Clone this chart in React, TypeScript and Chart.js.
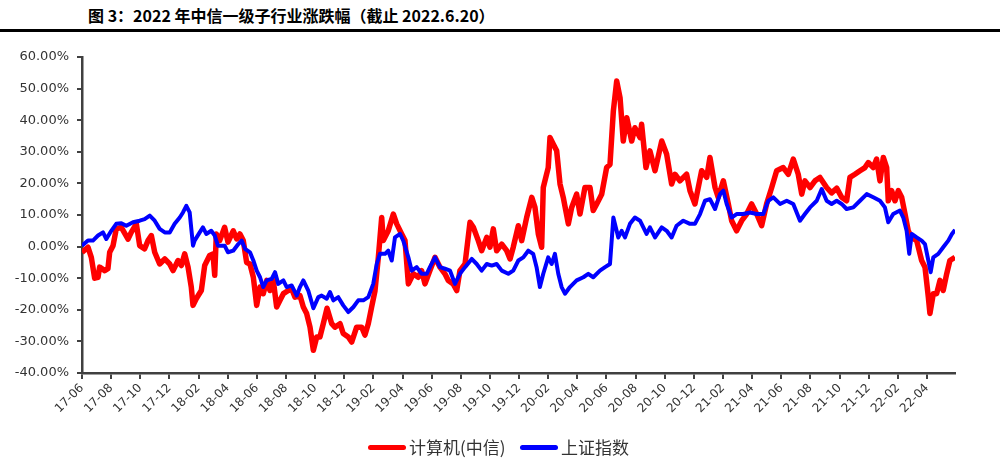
import React, { useEffect, useRef } from "react";
import { Chart, registerables } from "chart.js";

Chart.register(...registerables);

// x = months since 2017-06 (0 = 17-06), y = cumulative change in %
const redSeries: [number, number][] = [
  [0, -1.8], [0.41, -0.2], [0.64, -3.4], [0.87, -10], [1.1, -9.7], [1.21, -6.5], [1.56, -7.6], [1.78, -7],
  [1.9, -1.8], [2.13, 0.3], [2.35, 5.6], [2.7, 6.1], [3.16, 2.4], [3.38, 4.5], [3.73, 7.2], [3.96, 0.3],
  [4.3, -0.7], [4.53, 1.9], [4.76, 3.5], [4.99, -1.8], [5.33, -5.5], [5.68, -3.9], [6.02, -5.5], [6.25, -7.6],
  [6.59, -4.4], [6.82, -6], [7.05, -2.3], [7.28, -6.5], [7.5, -12.8], [7.62, -18.6], [7.84, -16.5], [8.19, -13.9],
  [8.42, -6], [8.76, -2.8], [8.99, -2.3], [9.11, -9.1], [9.22, 4], [9.45, 1.9], [9.79, 6.1], [10.02, 1.4],
  [10.38, 5], [10.62, 2.4], [10.84, 4], [11.07, 1.9], [11.3, -5], [11.53, -5.5], [11.76, -9.7], [11.99, -18.6],
  [12.22, -12.8], [12.44, -14.9], [12.68, -10.7], [12.9, -13.9], [13.13, -10.7], [13.36, -19.1], [13.59, -17], [13.82, -14.9],
  [14.16, -13.9], [14.39, -13.3], [14.62, -16], [14.96, -15.5], [15.19, -19.1], [15.42, -21.2], [15.65, -25.5], [15.88, -32.8],
  [16.11, -28.6], [16.33, -28.6], [16.56, -24.4], [16.82, -19.5], [17.14, -24.4], [17.36, -25.5], [17.71, -24.4], [17.93, -27.5],
  [18.28, -28.6], [18.51, -30.2], [18.85, -25.5], [19.2, -25.5], [19.42, -28], [19.65, -24.4], [19.88, -19.1], [20.11, -14],
  [20.34, -3.4], [20.57, 9.2], [20.68, 1.9], [21.02, 5], [21.37, 10.3], [21.6, 7.2], [21.94, 4], [22.17, 1.9],
  [22.4, -11.8], [22.74, -8.6], [23.08, -9.7], [23.31, -7.6], [23.54, -11.8], [23.88, -7.6], [24.23, -3.4], [24.57, -6.5],
  [24.91, -8.6], [25.14, -10.7], [25.48, -11.8], [25.72, -13.9], [25.94, -7.6], [26.29, -5.5], [26.63, 7.7], [26.86, 6.1],
  [27.2, 1.9], [27.43, -1.3], [27.78, 2.9], [28.0, -0.2], [28.23, 5.6], [28.46, -1.3], [28.81, 0.8], [29.15, -1.3],
  [29.38, -3.9], [29.6, -0.2], [29.95, 6.6], [30.18, 1.9], [30.52, 9.2], [30.87, 15.6], [31.09, 12.4], [31.32, 4],
  [31.55, -0.2], [31.66, 18.7], [32.0, 25], [32.12, 34.5], [32.35, 32.4], [32.58, 30.3], [32.81, 19.8], [33.03, 15.6],
  [33.38, 7.2], [33.61, 12.4], [33.95, 16.6], [34.18, 10.3], [34.52, 18.7], [34.87, 18.7], [35.09, 11.4], [35.33, 13.5],
  [35.67, 16.6], [36.01, 25], [36.24, 26], [36.47, 42.9], [36.7, 52.4], [36.93, 47.1], [37.15, 33.4], [37.39, 40.8],
  [37.73, 33.4], [37.95, 37.6], [38.3, 34.5], [38.41, 38.7], [38.71, 25], [38.98, 30.3], [39.33, 24], [39.79, 33.4],
  [40.13, 29.2], [40.47, 19.8], [40.7, 22.9], [41.04, 20.8], [41.5, 22.9], [41.73, 17.7], [42.07, 13.5], [42.53, 24],
  [42.88, 21.9], [43.1, 28.2], [43.45, 18.7], [43.67, 15.6], [44.02, 20.8], [44.36, 13.5], [44.59, 8.2], [44.93, 5],
  [45.28, 8.2], [45.62, 10.3], [45.96, 13.5], [46.31, 10.3], [46.65, 6.6], [46.99, 13.5], [47.34, 18.7], [47.68, 24],
  [48.13, 25], [48.48, 22.9], [48.82, 27.7], [49.16, 22.9], [49.4, 16.6], [49.62, 20.8], [49.97, 18.7], [50.31, 20.8],
  [50.65, 21.9], [51.11, 18.7], [51.45, 17], [51.8, 18.5], [52.14, 15.6], [52.48, 14.5], [52.71, 21.9], [53.05, 22.9],
  [53.4, 24], [53.74, 25], [53.97, 26.6], [54.31, 25], [54.54, 27.7], [54.77, 20.8], [55.0, 28.2], [55.23, 25],
  [55.34, 14.5], [55.57, 17.7], [55.8, 14.5], [56.03, 17.7], [56.26, 15.6], [56.49, 10.3], [56.71, 5], [56.95, 2.9],
  [57.29, 1.9], [57.63, -4.4], [57.86, -6.5], [58.09, -16], [58.2, -21.2], [58.43, -14.9], [58.66, -14.9], [58.89, -10.7],
  [59.11, -13.9], [59.35, -8.6], [59.57, -4.4], [59.92, -3.4],
];

const blueSeries: [number, number][] = [
  [0, 0.3], [0.41, 1.9], [0.75, 1.9], [1.1, 3.5], [1.44, 4.5], [1.67, 2.4], [2.01, 5], [2.35, 7.2],
  [2.7, 7.4], [3.04, 6.6], [3.5, 7.7], [3.96, 8.2], [4.3, 8.7], [4.65, 9.8], [4.99, 8.2], [5.33, 5.6],
  [5.68, 4.5], [6.02, 4.5], [6.36, 7.2], [6.71, 9.2], [6.93, 10.8], [7.16, 12.9], [7.39, 10.8], [7.62, 0.3],
  [7.73, 1.9], [8.08, 4.5], [8.3, 6.1], [8.53, 4], [8.87, 5], [9.11, 3.5], [9.33, 0.3], [9.79, 0.3],
  [10.02, -1.8], [10.38, -1.3], [10.73, 0.8], [10.96, 1.9], [11.19, -0.7], [11.53, -1.8], [11.76, -4.4], [11.99, -7.6],
  [12.22, -9.7], [12.44, -12.8], [12.68, -10.7], [13.02, -10.2], [13.25, -8.1], [13.47, -11.8], [13.82, -10.7], [14.05, -12.8],
  [14.39, -12.3], [14.74, -15.5], [14.96, -12.8], [15.19, -10.7], [15.53, -13.9], [15.88, -19.5], [16.22, -16], [16.45, -15.5],
  [16.8, -16.5], [17.02, -14.4], [17.25, -17], [17.59, -16], [17.93, -18.6], [18.28, -20.7], [18.63, -19.1], [18.96, -17],
  [19.31, -17], [19.65, -16], [19.99, -11.8], [20.23, -5.5], [20.45, -2.3], [20.8, -2.3], [21.02, -1.3], [21.26, -4.4],
  [21.48, 2.9], [21.83, 4], [22.05, 1.9], [22.4, -3.4], [22.63, -7.6], [22.97, -6.5], [23.31, -8.6], [23.66, -8.6],
  [23.88, -6.5], [24.23, -3.4], [24.57, -6.5], [24.91, -7], [25.26, -7.6], [25.6, -11.8], [25.94, -8.6], [26.29, -6.5],
  [26.75, -3.9], [27.09, -5.5], [27.43, -7.6], [27.78, -5.5], [28.12, -6], [28.46, -5.5], [28.81, -7.6], [29.26, -8.6],
  [29.6, -7.6], [29.95, -4.4], [30.29, -3.4], [30.63, -1.3], [30.97, -2.3], [31.2, -6.5], [31.43, -12.8], [31.66, -8.6],
  [32.0, -3.4], [32.24, -5.5], [32.46, -2.3], [32.69, -8.6], [32.92, -12.8], [33.15, -14.9], [33.49, -12.8], [33.95, -10.7],
  [34.41, -9.7], [34.75, -8.6], [35.09, -9.7], [35.55, -7.6], [35.9, -6.5], [36.24, -5.5], [36.47, 9.2], [36.81, 2.9],
  [37.04, 5], [37.27, 2.9], [37.61, 7.2], [37.95, 9.2], [38.3, 8.2], [38.75, 4], [38.98, 6.1], [39.33, 2.9],
  [39.79, 6.1], [40.13, 5], [40.47, 2.9], [40.81, 6.6], [41.27, 8.2], [41.73, 7.2], [42.07, 7.2], [42.42, 10.3],
  [42.76, 14.5], [43.1, 15], [43.45, 11.9], [43.79, 16.6], [44.02, 17.7], [44.25, 13.5], [44.59, 9.2], [44.93, 10.3],
  [45.39, 10.3], [45.85, 10.8], [46.31, 10.3], [46.76, 10.3], [47.1, 14.5], [47.45, 15.6], [47.91, 13.5], [48.37, 14.5],
  [48.82, 13.5], [49.28, 8.2], [49.62, 10.3], [49.97, 12.4], [50.43, 14.5], [50.77, 18.2], [51.11, 14.5], [51.45, 13.5],
  [51.8, 14.5], [52.14, 13.5], [52.48, 11.9], [52.94, 12.4], [53.4, 14.5], [53.86, 16.6], [54.31, 15.6], [54.77, 14.5],
  [55.11, 12.4], [55.34, 7.7], [55.68, 10.3], [56.14, 11.4], [56.37, 9.2], [56.6, 5], [56.78, -2.3], [56.95, 4],
  [57.29, 2.9], [57.63, 1.9], [57.86, 0.8], [58.09, -4.4], [58.25, -8.1], [58.43, -3.4], [58.77, -2.3], [59.11, -0.2],
  [59.46, 1.9], [59.71, 4], [59.92, 5.3],
];

const seriesNames = ["计算机(中信)", "上证指数"];
const seriesColors = ["#FF0000", "#0000FF"];
const yTicks = [-40, -30, -20, -10, 0, 10, 20, 30, 40, 50, 60];
const startYear = 17;
const startMonth = 6;
const xMax = 59.92;
const titleText = "图 3：2022 年中信一级子行业涨跌幅（截止 2022.6.20）";

function monthLabel(v: number): string {
  const total = startMonth - 1 + Math.round(v);
  const yy = startYear + Math.floor(total / 12);
  const mm = (total % 12) + 1;
  return `${yy}-${mm < 10 ? "0" + mm : mm}`;
}

function LegendItem({ name, color, left }: { name: string; color: string; left: number }) {
  return (
    <div
      style={{
        position: "absolute",
        left,
        top: 436,
        height: 22,
        display: "flex",
        alignItems: "center",
        whiteSpace: "nowrap",
      }}
    >
      <span
        style={{
          display: "inline-block",
          width: 38,
          height: 5,
          borderRadius: 3,
          background: color,
          marginRight: 3,
        }}
      />
      <span
        style={{
          fontFamily: "'Noto Sans CJK SC', sans-serif",
          fontSize: 17,
          lineHeight: "22px",
          color: "#333333",
        }}
      >
        {name}
      </span>
    </div>
  );
}

export default function App() {
  const canvasRef = useRef<HTMLCanvasElement | null>(null);

  useEffect(() => {
    document.body.style.margin = "0";
    const canvas = canvasRef.current;
    if (!canvas) return;
    const axisColor = "#404040";
    const textColor = "#333333";
    const chart = new Chart(canvas, {
      type: "line",
      data: {
        datasets: [
          {
            label: seriesNames[0],
            data: redSeries.map(([x, y]) => ({ x, y })),
            borderColor: seriesColors[0],
            backgroundColor: seriesColors[0],
            borderWidth: 5.5,
            pointRadius: 0,
            tension: 0,
            order: 2,
            borderJoinStyle: "round",
          },
          {
            label: seriesNames[1],
            data: blueSeries.map(([x, y]) => ({ x, y })),
            borderColor: seriesColors[1],
            backgroundColor: seriesColors[1],
            borderWidth: 4,
            pointRadius: 0,
            tension: 0,
            order: 1,
            borderJoinStyle: "round",
          },
        ],
      },
      options: {
        animation: false,
        responsive: false,
        maintainAspectRatio: false,
        layout: { padding: { top: 57, right: 45, left: 0, bottom: 55 } },
        plugins: {
          legend: { display: false },
          tooltip: { enabled: false },
        },
        scales: {
          x: {
            type: "linear",
            min: 0,
            max: xMax,
            afterFit: (scale: any) => {
              scale.height = 48;
            },
            grid: {
              drawOnChartArea: false,
              drawTicks: true,
              tickLength: 6,
              color: axisColor,
              lineWidth: 2,
            },
            border: { color: axisColor, width: 2.5 },
            ticks: {
              stepSize: 2,
              includeBounds: false,
              autoSkip: false,
              maxRotation: 45,
              minRotation: 45,
              color: textColor,
              padding: 2,
              font: { family: "'DejaVu Sans', sans-serif", size: 12 },
              callback: (v: any) => monthLabel(Number(v)),
            },
          },
          y: {
            type: "linear",
            min: yTicks[0],
            max: yTicks[yTicks.length - 1],
            afterFit: (scale: any) => {
              scale.width = 82;
            },
            afterBuildTicks: (scale: any) => {
              scale.ticks = yTicks.map((v) => ({ value: v }));
            },
            grid: {
              drawOnChartArea: false,
              drawTicks: true,
              tickLength: 5,
              color: axisColor,
              lineWidth: 2,
            },
            border: { color: axisColor, width: 2.5 },
            ticks: {
              color: textColor,
              padding: 8,
              font: { family: "'DejaVu Sans', sans-serif", size: 13 },
              callback: (v: any) => Number(v).toFixed(2) + "%",
            },
          },
        },
      },
    });
    return () => chart.destroy();
  }, []);

  return (
    <div style={{ position: "relative", width: 1000, height: 476, background: "#fff", overflow: "hidden" }}>
      <div
        style={{
          position: "absolute",
          left: 88,
          top: 4,
          fontFamily: "'Noto Sans CJK SC', sans-serif",
          fontWeight: 700,
          fontSize: 16,
          lineHeight: "22px",
          color: "#000",
          whiteSpace: "nowrap",
        }}
      >
        {titleText}
      </div>
      <div style={{ position: "absolute", left: 0, top: 29, width: 1000, height: 3, background: "#000" }} />
      <canvas ref={canvasRef} width={1000} height={476} style={{ position: "absolute", left: 0, top: 0 }} />
      <LegendItem name={seriesNames[0]} color={seriesColors[0]} left={368} />
      <LegendItem name={seriesNames[1]} color={seriesColors[1]} left={520} />
    </div>
  );
}
